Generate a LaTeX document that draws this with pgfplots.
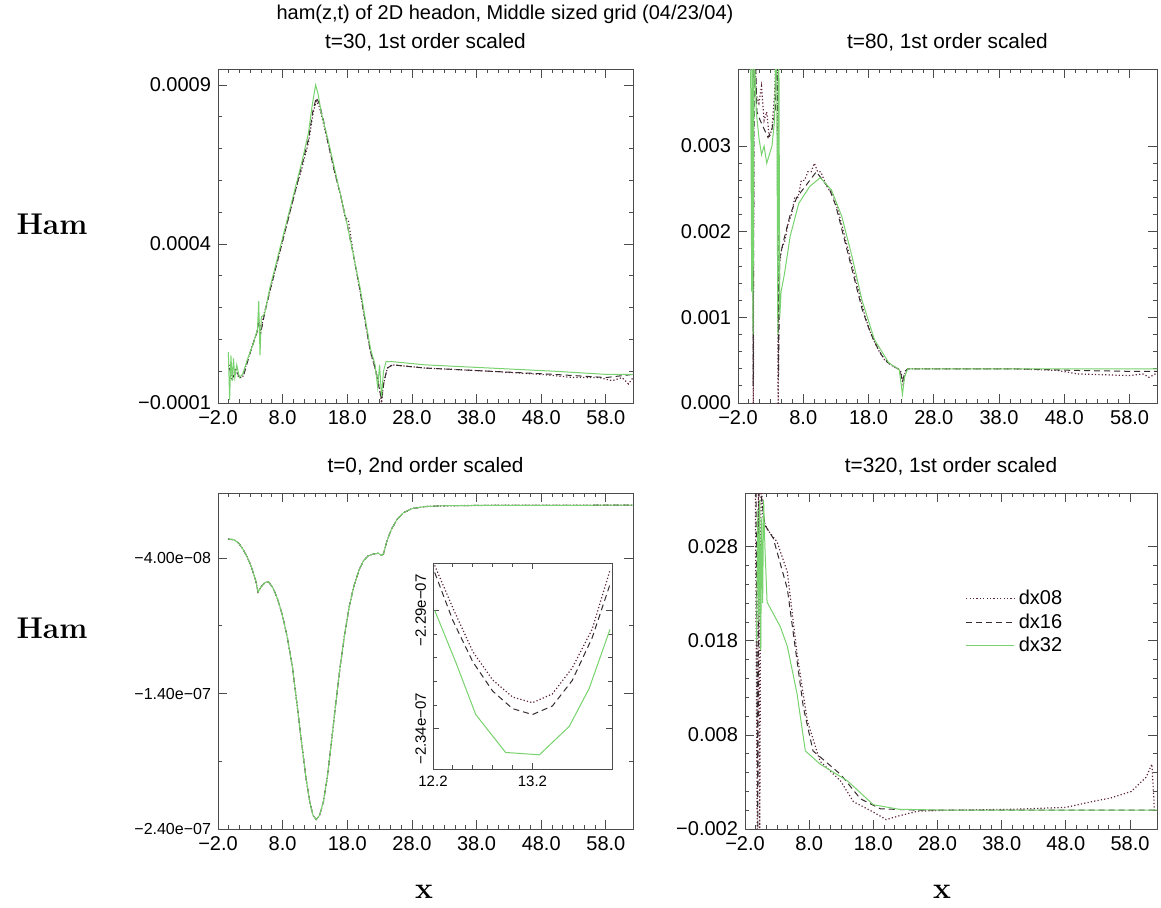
\documentclass[border=0pt]{standalone}
\usepackage{fontspec}
\usepackage{pgfplots}
\pgfplotsset{compat=1.18}
\newfontfamily\hv{Liberation Sans}
\definecolor{cA}{RGB}{95,35,60}
\definecolor{cB}{RGB}{55,45,45}
\definecolor{cC}{RGB}{120,210,110}
\pgfplotsset{
  panel/.style={
    scale only axis, enlargelimits=false, clip=true,
    axis line style={black!70, line width=0.5pt},
    tick style={black!70, line width=0.4pt},
    major tick length=4.5pt, minor tick length=2.2pt, tick align=inside,
    xmin=-2, xmax=62.2,
    xtick={-2,8,18,28,38,48,58},
    xticklabels={−2.0,8.0,18.0,28.0,38.0,48.0,58.0},
    minor x tick num=5,
    scaled x ticks=false, scaled y ticks=false,
    ticklabel style={font=\hv\fontsize{10}{12}\selectfont},
    title style={font=\hv\fontsize{10.4}{12.5}\selectfont, yshift=-0.5pt},
  },
  s08/.style={cA, line width=0.6pt, dash pattern=on 0.6pt off 1.1pt},
  s16/.style={cB, line width=0.5pt, dash pattern=on 3pt off 2pt},
  s32/.style={cC, line width=0.5pt, solid},
}
\begin{document}
\begin{tikzpicture}
\useasboundingbox (0,0) rectangle (580.5pt,-453.5pt);
\node[font=\hv\fontsize{10}{12}\selectfont] at (252.5pt,-7pt) {ham(z,t) of 2D headon, Middle sized grid (04/23/04)};
\node[font=\fontsize{15}{18}\selectfont\bfseries] at (26pt,-112pt) {Ham};
\node[font=\fontsize{15}{18}\selectfont\bfseries] at (26pt,-314pt) {Ham};
\node[font=\fontsize{15}{18}\selectfont\bfseries] at (212pt,-446pt) {x};
\node[font=\fontsize{15}{18}\selectfont\bfseries] at (471pt,-446pt) {x};

% ---------------- top left: t=30
\begin{axis}[panel, at={(109pt,-201.5pt)}, anchor=south west,
  width=207.5pt, height=167pt,
  title={t=30, 1st order scaled},
  ymin=-0.0001, ymax=0.00095,
  ytick={-0.0001,0.0004,0.0009}, yticklabels={−0.0001,0.0004,0.0009},
  minor y tick num=4]
\addplot[s08] coordinates {(-0.3,0.00002) (0.2,-0.00003) (0.7,0.00001) (1.2,-0.00002) (1.8,-0.00002) (2.5,0.00003) (3.3,0.00008) (4.0,0.00012) (4.3,0.00016) (4.6,0.00012) (5.0,0.00017) (6.0,0.00025) (7.0,0.00033) (8.0,0.00041) (9.0,0.00049) (10.0,0.00057) (11.0,0.00064) (12.0,0.00072) (12.7,0.00081) (13.2,0.00085) (13.7,0.00083) (14.3,0.00078) (15.0,0.00072) (16.0,0.00063) (17.0,0.00055) (17.6,0.00049) (18.2,0.00047) (19.0,0.00036) (20.0,0.00025) (20.9,0.00014) (21.6,0.00006) (22.3,0.00001) (22.8,-0.00003) (23.3,-0.00010) (23.6,-0.00004) (24.2,0.00001) (25.0,0.00002) (30,0.00001) (40,0.00000) (48,-0.00001) (53,-0.00002) (57,-0.00002) (59,-0.00003) (60.5,-0.00002) (61.5,-0.00004) (62.2,-0.00002)};
\addplot[s16] coordinates {(-0.3,0.00001) (0.3,-0.00002) (0.8,0.00000) (1.4,-0.00002) (2.0,-0.00001) (3.0,0.00006) (4.0,0.00012) (4.4,0.00015) (4.7,0.00013) (5.2,0.00018) (6.0,0.00025) (7.0,0.00033) (8.0,0.00041) (9.0,0.00049) (10.0,0.00057) (11.0,0.00065) (12.0,0.00073) (12.7,0.00082) (13.2,0.00086) (13.7,0.00084) (14.3,0.00079) (15.0,0.00072) (16.0,0.00063) (17.0,0.00055) (18.0,0.00046) (19.0,0.00036) (20.0,0.00025) (20.9,0.00014) (21.6,0.00006) (22.3,0.00001) (22.8,-0.00004) (23.3,-0.00009) (23.7,-0.00003) (24.2,0.00001) (25.0,0.00002) (30,0.00001) (40,0.00000) (50,-0.00001) (58,-0.00002) (62.2,-0.00001)};
\addplot[s32] coordinates {(-0.4,0.00006) (-0.2,-0.00009) (0.0,0.00005) (0.2,-0.00003) (0.4,0.00004) (0.6,-0.00002) (0.9,0.00002) (1.3,-0.00002) (1.8,-0.00001) (2.6,0.00004) (3.5,0.00009) (4.1,0.00013) (4.3,0.00022) (4.5,0.00005) (4.7,0.00017) (5.2,0.00018) (6.0,0.00026) (7.0,0.00034) (8.0,0.00042) (9.0,0.00050) (10.0,0.00058) (11.0,0.00066) (12.0,0.00075) (12.6,0.00084) (13.1,0.00090) (13.5,0.00087) (14.0,0.00081) (15.0,0.00073) (16.0,0.00064) (17.0,0.00055) (18.0,0.00046) (19.0,0.00036) (20.0,0.00026) (20.9,0.00015) (21.6,0.00007) (22.3,0.00002) (22.7,-0.00005) (23.0,0.00002) (23.3,-0.00008) (23.6,0.00000) (24.0,0.00003) (25.0,0.00003) (30,0.00002) (40,0.00001) (50,0.00000) (58,-0.00001) (62.2,-0.00001)};
\end{axis}

% ---------------- top right: t=80
\begin{axis}[panel, at={(369pt,-201.5pt)}, anchor=south west,
  width=209.5pt, height=167pt,
  title={t=80, 1st order scaled},
  ymin=0, ymax=0.0039,
  ytick={0,0.001,0.002,0.003}, yticklabels={0.000,0.001,0.002,0.003},
  minor y tick num=4]
\addplot[s08] coordinates {(-0.3,0.0045) (0.25,0.0045) (0.35,-0.0001) (0.45,0.0045) (0.8,0.0036) (1.2,0.0035) (1.6,0.0037) (2.0,0.0033) (2.4,0.0034) (2.8,0.0031) (3.2,0.0032) (3.6,0.0036) (4.0,0.0045) (4.15,-0.0001) (4.3,0.0016) (4.7,0.0018) (5.2,0.0019) (5.7,0.0021) (6.2,0.0022) (6.7,0.0024) (7.2,0.0024) (7.7,0.0026) (8.2,0.0026) (8.7,0.0027) (9.2,0.0027) (9.7,0.0028) (10.2,0.0027) (10.7,0.0027) (11.2,0.0026) (11.8,0.0025) (12.5,0.00245) (13.5,0.0022) (14.5,0.0019) (15.5,0.0016) (16.5,0.0013) (17.5,0.0010) (18.5,0.00078) (19.5,0.00062) (20.5,0.0005) (21.5,0.00044) (22.5,0.0004) (23.0,0.00036) (23.3,0.0002) (23.6,0.00036) (24,0.0004) (30,0.0004) (40,0.0004) (47,0.00038) (50,0.00034) (54,0.00033) (58,0.00032) (60,0.00034) (61,0.00030) (62.2,0.00035)};
\addplot[s16] coordinates {(-0.3,0.0040) (0.2,0.0045) (0.33,0.0002) (0.5,0.0045) (0.9,0.0034) (1.4,0.0033) (2.0,0.0032) (2.6,0.0031) (3.2,0.0032) (3.7,0.0034) (4.05,0.0045) (4.2,0.0003) (4.4,0.0017) (5.0,0.0019) (6.0,0.0022) (7.0,0.0024) (8.0,0.0025) (9.0,0.0026) (10.0,0.0027) (11.0,0.0026) (12.0,0.0025) (13.0,0.0023) (14.0,0.0020) (15.0,0.0017) (16.0,0.0014) (17.0,0.0011) (18.0,0.00088) (19.0,0.0007) (20.0,0.00056) (21.0,0.00047) (22.0,0.00042) (22.8,0.00039) (23.2,0.00025) (23.6,0.00037) (24,0.0004) (30,0.0004) (40,0.0004) (50,0.00038) (58,0.00037) (62.2,0.00037)};
\addplot[s32] coordinates {(-0.3,0.0042) (-0.1,0.0045) (0.1,0.0013) (0.2,0.0045) (0.3,0.0008) (0.45,0.0042) (0.8,0.0034) (1.2,0.0031) (1.6,0.0029) (2.0,0.0030) (2.4,0.0028) (2.8,0.0029) (3.2,0.0030) (3.6,0.0033) (3.9,0.0045) (4.1,0.0008) (4.25,0.0045) (4.4,0.0010) (4.6,0.0013) (5.1,0.0015) (6.0,0.00195) (7.3,0.00233) (9.0,0.00253) (10.6,0.00263) (12.3,0.00249) (13.9,0.00218) (15.5,0.0017) (17.0,0.0012) (18.9,0.00074) (21.1,0.00047) (22.7,0.00039) (23.2,0.0001) (23.5,0.0003) (24,0.0004) (30,0.0004) (40,0.0004) (50,0.0004) (62.2,0.0004)};
\end{axis}

% ---------------- bottom left: t=0
\pgfplotstableread{
x y
-0.45 -2.6e-8
0.5 -2.65e-8
1.2 -2.9e-8
1.8 -3.3e-8
2.5 -3.9e-8
3.2 -4.7e-8
3.8 -5.6e-8
4.2 -6.5e-8
4.7 -6.1e-8
5.3 -5.8e-8
5.8 -5.75e-8
6.5 -6.2e-8
7.2 -7.0e-8
7.9 -8.1e-8
8.7 -9.8e-8
9.5 -1.2e-7
10.2 -1.47e-7
10.9 -1.75e-7
11.6 -2.02e-7
12.2 -2.2e-7
12.7 -2.3e-7
13.2 -2.33e-7
13.7 -2.3e-7
14.3 -2.2e-7
14.9 -2.02e-7
15.5 -1.78e-7
16.2 -1.48e-7
16.9 -1.2e-7
17.6 -9.6e-8
18.3 -7.6e-8
19.0 -6.1e-8
19.8 -4.9e-8
20.5 -4.2e-8
21.2 -3.85e-8
22.0 -3.7e-8
22.8 -3.65e-8
23.3 -3.8e-8
23.6 -3.7e-8
24.1 -2.8e-8
24.8 -1.9e-8
25.7 -1.15e-8
26.7 -6.5e-9
28.0 -3.5e-9
30.0 -2.0e-9
33.0 -1.4e-9
40.0 -1.1e-9
62.2 -1.0e-9
}\tzero
\begin{axis}[panel, at={(109pt,-414.5pt)}, anchor=south west,
  width=207.5pt, height=168pt,
  title={t=0, 2nd order scaled},
  ymin=-2.4e-7, ymax=8e-9,
  ytick={-2.4e-7,-1.4e-7,-4e-8}, yticklabels={−2.40e−07,−1.40e−07,−4.00e−08},
  yticklabel style={font=\hv\fontsize{8}{10}\selectfont},
  minor y tick num=1]
\addplot[s08] table[x=x,y=y] {\tzero};
\addplot[s16] table[x=x,y=y] {\tzero};
\addplot[s32] table[x=x,y=y] {\tzero};
\end{axis}

% ---------------- inset
\begin{axis}[scale only axis, enlargelimits=false, clip=true,
  at={(216.5pt,-384.5pt)}, anchor=south west, width=89.5pt, height=103pt,
  axis background/.style={fill=white},
  axis line style={black!70, line width=0.5pt},
  tick style={black!70, line width=0.4pt},
  major tick length=3pt, minor tick length=2pt, tick align=inside,
  scaled x ticks=false, scaled y ticks=false,
  xmin=12.2, xmax=14.0, xtick={12.2,13.2}, xticklabels={12.2,13.2}, minor x tick num=4,
  ymin=-2.357e-7, ymax=-2.27e-7, ytick={-2.34e-7,-2.29e-7}, yticklabels={−2.34e−07,−2.29e−07},
  minor y tick num=4,
  ticklabel style={font=\hv\fontsize{7.5}{9}\selectfont},
  yticklabel style={rotate=90, anchor=south, xshift=0pt}]
\addplot[s08] coordinates {(12.217,-2.271e-7) (12.4,-2.289e-7) (12.6,-2.3074e-7) (12.8,-2.3194e-7) (13.0,-2.3266e-7) (13.2,-2.329e-7) (13.4,-2.3253e-7) (13.6,-2.3143e-7) (13.8,-2.298e-7) (13.98,-2.273e-7)};
\addplot[s16] coordinates {(12.217,-2.274e-7) (12.4,-2.2943e-7) (12.6,-2.3117e-7) (12.8,-2.3241e-7) (13.0,-2.3315e-7) (13.2,-2.334e-7) (13.4,-2.3304e-7) (13.6,-2.3196e-7) (13.8,-2.3016e-7) (13.98,-2.279e-7)};
\addplot[s32] coordinates {(12.217,-2.290e-7) (12.43,-2.312e-7) (12.63,-2.334e-7) (12.93,-2.350e-7) (13.27,-2.351e-7) (13.57,-2.339e-7) (13.77,-2.323e-7) (13.98,-2.298e-7)};
\end{axis}

% ---------------- bottom right: t=320
\begin{axis}[panel, at={(372.5pt,-414.5pt)}, anchor=south west,
  width=206pt, height=168pt,
  title={t=320, 1st order scaled},
  ymin=-0.002, ymax=0.0337,
  ytick={-0.002,0.008,0.018,0.028}, yticklabels={−0.002,0.008,0.018,0.028},
  minor y tick num=4,
  legend style={draw=none, fill=none, at={(0.52,0.736)}, anchor=north west,
    font=\hv\fontsize{10}{12}\selectfont, row sep=-1pt,
    legend cell align=left},
  legend image code/.code={\draw[#1] (0pt,0pt) -- (24pt,0pt);}]
\addplot[s08] coordinates {(-0.4,0.036) (-0.1,-0.002) (0.1,0.036) (0.3,-0.002) (0.5,0.036) (0.8,0.031) (1.4,0.0299) (3.0,0.0285) (4.6,0.0253) (6.1,0.0167) (7.7,0.0095) (9.7,0.0052) (12.9,0.0031) (14.9,0.0009) (18,-0.0002) (20,-0.0010) (22,-0.0006) (25,-0.0001) (30,0.0) (40,0.0001) (48,0.0003) (52,0.0009) (55,0.0013) (58.2,0.0020) (60.5,0.0035) (61.4,0.0049) (61.8,0.0) (62.2,0.0)};
\addlegendentry{dx08}
\addplot[s16] coordinates {(-0.3,0.036) (0.0,-0.002) (0.2,0.036) (0.6,0.033) (1.1,0.0303) (2.4,0.0289) (4.6,0.0235) (5.8,0.0174) (7.1,0.0109) (8.6,0.0063) (12.9,0.0038) (16,0.0012) (19.1,0.00015) (25,0.0) (40,0.0) (55,0.0) (62.2,0.0)};
\addlegendentry{dx16}
\addplot[s32] coordinates {(-0.2,0.018) (0.0,0.032) (0.15,0.020) (0.3,0.033) (0.45,0.017) (0.6,0.031) (0.75,0.022) (0.9,0.033) (1.1,0.028) (1.44,0.0221) (3.5,0.0195) (4.6,0.0174) (6.1,0.0124) (7.4,0.0063) (9.7,0.0049) (14,0.0031) (18,0.00058) (22,0.0001) (30,0.0) (62.2,0.0)};
\addlegendentry{dx32}
\end{axis}
\end{tikzpicture}
\end{document}
